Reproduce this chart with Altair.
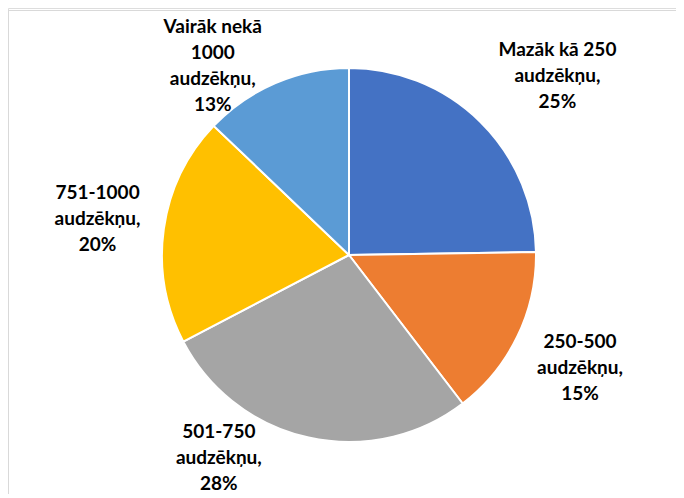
import math
import altair as alt
import pandas as pd

# Data
categories = ["Mazāk kā 250 audzēkņu", "250-500 audzēkņu", "501-750 audzēkņu",
              "751-1000 audzēkņu", "Vairāk nekā 1000 audzēkņu"]
label_lines = ["Mazāk kā 250|audzēkņu,", "250-500|audzēkņu,", "501-750|audzēkņu,",
               "751-1000|audzēkņu,", "Vairāk nekā|1000|audzēkņu,"]
values = [25, 15, 28, 20, 13]
colors = ["#4472C4", "#ED7D31", "#A5A5A5", "#FFC000", "#5B9BD5"]

labels = [f"{l}|{v}%" for l, v in zip(label_lines, values)]
df = pd.DataFrame({
    "category": categories,
    "label": labels,
    "value": values,
    "order": list(range(len(values))),
})
total = sum(values)

W, H = 668, 486
CX, CY = 341, 247
R = 187
LR = 260
LH = 26

pie = alt.Chart(df).mark_arc(outerRadius=R, stroke="white", strokeWidth=2).encode(
    theta=alt.Theta("value:Q", stack=True),
    order=alt.Order("order:Q"),
    color=alt.Color("category:N", scale=alt.Scale(domain=categories, range=colors), legend=None),
    x=alt.value(CX), y=alt.value(CY),
)

offsets = [(26, 6), (-3, 0), (-74, -51), (6, 0), (-34, 50)]
text_layers = []
for cat, lab, (dx, dy) in zip(categories, labels, offsets):
    n = len(lab.split("|"))
    t = alt.Chart(df).transform_window(
        cum="sum(value)", sort=[alt.SortField("order")]
    ).transform_calculate(
        mid="datum.cum - datum.value / 2",
        lines="split(datum.label, '|')",
    ).transform_filter(
        alt.datum.category == cat
    ).mark_text(
        radius=LR, dx=dx, dy=dy - (n - 1) * LH / 2, font="Lato", fontSize=19, fontWeight="bold",
        color="#000000", align="center", baseline="middle", lineHeight=LH,
    ).encode(
        theta=alt.Theta("mid:Q", scale=alt.Scale(domain=[0, total], range=[0, 2 * math.pi])),
        text="lines:N", x=alt.value(CX), y=alt.value(CY),
    )
    text_layers.append(t)

border_top = alt.Chart(df).mark_rule(color="#D9D9D9", strokeWidth=1).encode(
    x=alt.value(0.5), x2=alt.value(W), y=alt.value(2.5)
)
border_left = alt.Chart(df).mark_rule(color="#D9D9D9", strokeWidth=1).encode(
    x=alt.value(0.5), y=alt.value(2.5), y2=alt.value(H)
)

chart = alt.layer(border_top, border_left, pie, *text_layers).resolve_scale(
    theta="independent"
).properties(
    width=W, height=H, autosize="none",
    padding={"left": 0, "top": 0, "right": 0, "bottom": 0},
).configure_view(stroke=None).configure(background="white")

chart.save("out.html", embed_options={"renderer": "svg", "actions": False})
